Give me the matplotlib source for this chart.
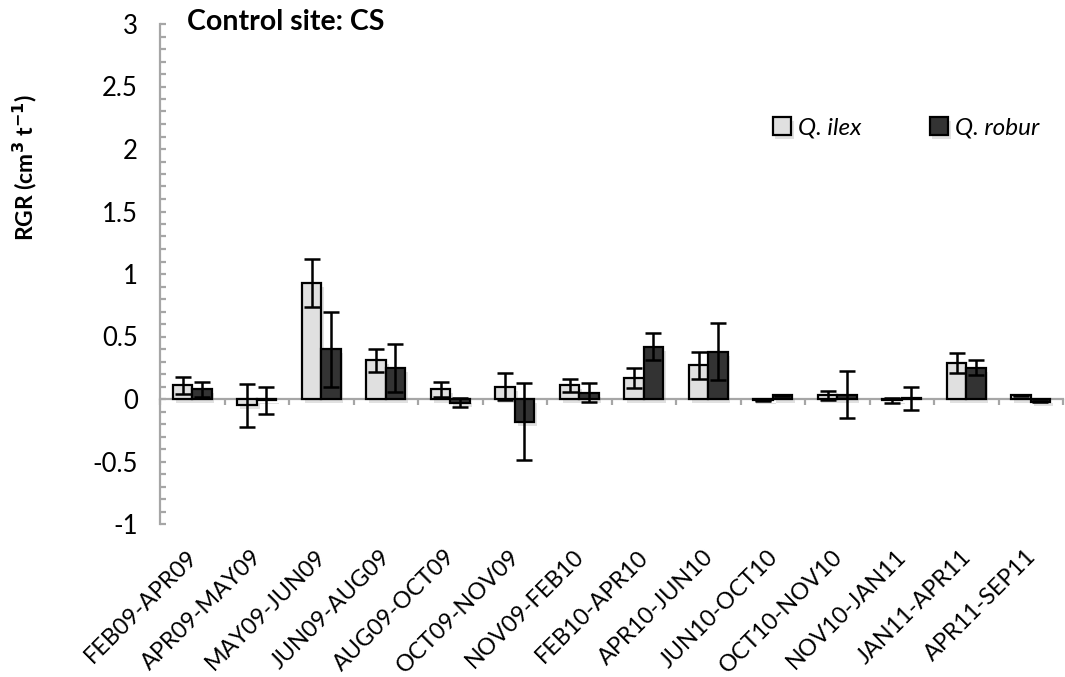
import matplotlib
matplotlib.use("Agg")
import matplotlib.pyplot as plt
import matplotlib.patheffects as pe
import matplotlib.transforms as mtransforms
from matplotlib.ticker import MultipleLocator
import numpy as np

categories = ['FEB09-APR09', 'APR09-MAY09', 'MAY09-JUN09', 'JUN09-AUG09',
              'AUG09-OCT09', 'OCT09-NOV09', 'NOV09-FEB10', 'FEB10-APR10',
              'APR10-JUN10', 'JUN10-OCT10', 'OCT10-NOV10', 'NOV10-JAN11',
              'JAN11-APR11', 'APR11-SEP11']
ilex = [0.11, -0.05, 0.93, 0.31, 0.08, 0.10, 0.11, 0.17, 0.27, -0.01, 0.03, -0.01, 0.29, 0.03]
ilex_err = [0.07, 0.17, 0.19, 0.09, 0.06, 0.11, 0.05, 0.08, 0.11, 0.005, 0.035, 0.02, 0.08, 0.005]
robur = [0.08, -0.01, 0.40, 0.25, -0.03, -0.18, 0.05, 0.42, 0.38, 0.03, 0.035, 0.005, 0.25, -0.02]
robur_err = [0.06, 0.11, 0.30, 0.19, 0.035, 0.31, 0.075, 0.11, 0.23, 0.005, 0.19, 0.095, 0.06, 0.005]

FONT = ['Lato', 'DejaVu Sans']
plt.rcParams['font.family'] = FONT

fig = plt.figure(figsize=(10.65, 6.77), dpi=100)
ax = fig.add_axes([160/1065, 153/677, (1063-160)/1065, 500/677])

x = np.arange(len(categories))
w = 0.30
shadow = [pe.SimplePatchShadow(offset=(2, -3), shadow_rgbFace='#888888', alpha=0.25), pe.Normal()]

b1 = ax.bar(x - w/2, ilex, w, color='#e0e0e0', edgecolor='black', linewidth=1.6,
            label='Q. ilex', zorder=3)
b2 = ax.bar(x + w/2, robur, w, color='#333333', edgecolor='black', linewidth=1.6,
            label='Q. robur', zorder=3)
for b in list(b1) + list(b2):
    b.set_path_effects(shadow)

ekw = dict(fmt='none', ecolor='black', elinewidth=1.8, capsize=5.5, capthick=1.8, zorder=4)
ax.errorbar(x - w/2, ilex, yerr=ilex_err, **ekw)
ax.errorbar(x + w/2, robur, yerr=robur_err, **ekw)

ax.set_xlim(-0.5, len(categories) - 0.5)
ax.set_ylim(-1, 3)

gray = '#a6a6a6'
for s in ['top', 'right']:
    ax.spines[s].set_visible(False)
ax.spines['left'].set_color(gray)
ax.spines['left'].set_linewidth(1.6)
ax.spines['bottom'].set_position(('data', 0))
ax.spines['bottom'].set_color(gray)
ax.spines['bottom'].set_linewidth(1.6)
ax.spines['bottom'].set_zorder(2)

ax.yaxis.set_major_locator(MultipleLocator(0.5))
ax.yaxis.set_minor_locator(MultipleLocator(0.1))
ax.tick_params(axis='y', which='both', direction='in', color=gray, width=1.6, length=4.5,
               labelsize=18.5, pad=16)
ax.set_yticks([-1, -0.5, 0, 0.5, 1, 1.5, 2, 2.5, 3])
ax.set_yticklabels(['-1', '-0.5', '0', '0.5', '1', '1.5', '2', '2.5', '3'])

ax.set_xticks(np.arange(len(categories) + 1) - 0.5)
ax.set_xticklabels([])
ax.tick_params(axis='x', which='both', direction='out', color=gray, width=1.6, length=4.5)

trans = mtransforms.blended_transform_factory(ax.transData, ax.transAxes) + \
    mtransforms.ScaledTranslation(-6/100, -22/100, fig.dpi_scale_trans)
for i, c in enumerate(categories):
    ax.text(i, 0, c, transform=trans, rotation=45, rotation_mode='anchor',
            ha='right', va='top', fontsize=16.8)

ax.text(0.03, 1.004, 'Control site: CS', transform=ax.transAxes, fontsize=20.5,
        fontweight='bold', ha='left', va='center')

fig.text(25/1065, 1 - 167/677, r'RGR (cm$^{\mathbf{3}}$ t$^{\mathbf{-1}}$)', rotation=90,
         ha='center', va='center', fontsize=16.5, fontweight='bold')

leg = ax.legend(loc='center', bbox_to_anchor=((906-160)/903, (677-128-153)/500),
                ncol=2, frameon=False, prop={'style': 'italic', 'size': 17.5, 'family': FONT},
                handlelength=0.75, handleheight=0.75, handletextpad=0.3, columnspacing=2.8)

fig.savefig('out.png', dpi=100)
